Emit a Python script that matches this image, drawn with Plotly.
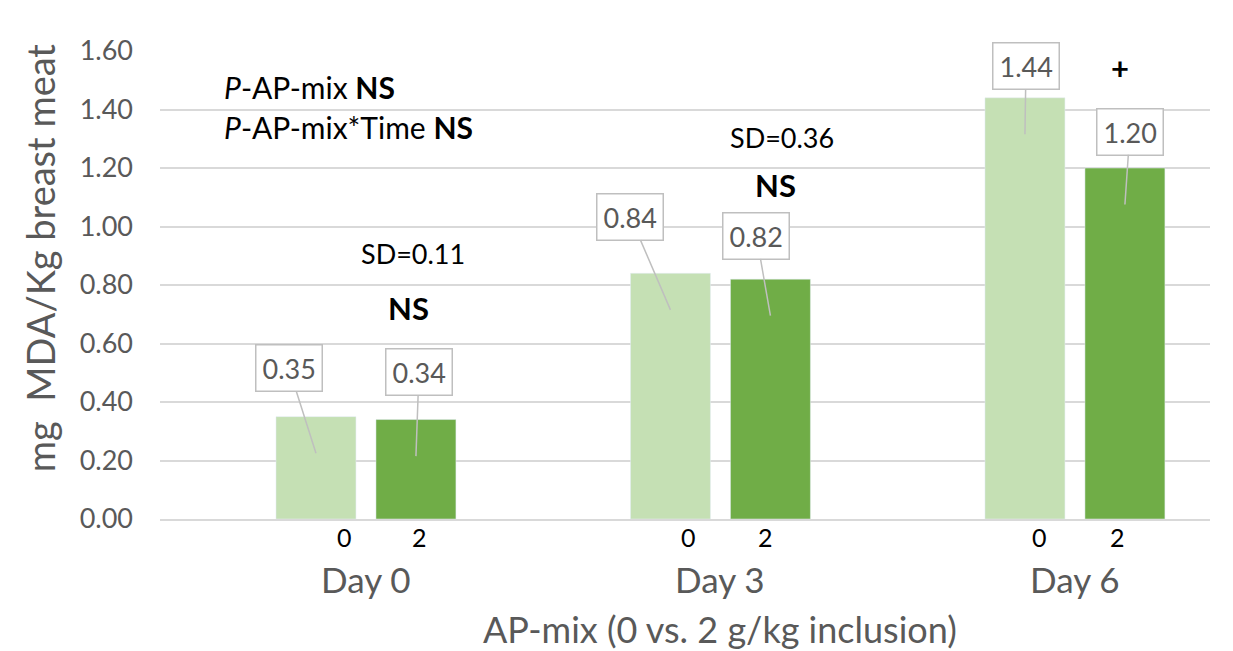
import plotly.graph_objects as go

days = ["Day 0", "Day 3", "Day 6"]
sub_labels = ["0", "2"]
ap0 = [0.35, 0.84, 1.44]
ap2 = [0.34, 0.82, 1.20]
sd_labels = ["SD=0.11", "SD=0.36", "SD=0.48"]
sig_labels = ["NS", "NS", "+"]
y_ticks = [0.0, 0.2, 0.4, 0.6, 0.8, 1.0, 1.2, 1.4, 1.6]

FONT = "Lato"
GRAY = "#595959"
LIGHT = "#C5E0B4"
DARK = "#70AD47"

fig = go.Figure()
fig.add_trace(go.Bar(x=days, y=ap0, name="0", marker_color=LIGHT))
fig.add_trace(go.Bar(x=days, y=ap2, name="2", marker_color=DARK))

annotations = []
# callout labels (offset of bubble relative to pointer tip)
bar_off = 0.141
ax0 = [-27, -40, 1]
ay0 = [-85, -93, -68]
ax2 = [3, -14, 5]
ay2 = [-84, -80, -73]
for i in range(3):
    for vals, off, axs, ays in ((ap0, -bar_off, ax0, ay0), (ap2, bar_off, ax2, ay2)):
        annotations.append(dict(
            x=i + off, y=vals[i] - 0.125, xref="x", yref="y",
            text=f"{vals[i]:.2f}", showarrow=True, arrowhead=0,
            arrowwidth=1.5, arrowcolor="#BFBFBF", ax=axs[i], ay=ays[i],
            bgcolor="white", bordercolor="#BFBFBF", borderwidth=1.5,
            borderpad=6, font=dict(family=FONT, size=27, color=GRAY)))

# sub labels and day labels
sub_shift = [[-21, 54], [-32, 45], [-35, 43]]
for i, d in enumerate(days):
    for j, s in enumerate(sub_labels):
        annotations.append(dict(x=i, y=0, xref="x", yref="paper", text=s,
                                showarrow=False, xshift=sub_shift[i][j], yanchor="top",
                                yshift=-1, font=dict(family=FONT, size=25, color="black")))
    annotations.append(dict(x=i, y=0, xref="x", yref="paper", text=d,
                            showarrow=False, yanchor="top", yshift=-37,
                            font=dict(family=FONT, size=35, color=GRAY)))

# SD and significance texts
sd_x = [0.133, 0.173, 0.127]
sd_y = [0.909, 1.306, 1.713]
sig_y = [0.721, 1.142, 1.542]
sig_x = [0.121, 0.156, 0.127]
for i in range(3):
    annotations.append(dict(x=i + sd_x[i], y=sd_y[i], xref="x", yref="y",
                            text=sd_labels[i], showarrow=False,
                            font=dict(family=FONT, size=27, color="black")))
    annotations.append(dict(x=i + sig_x[i], y=sig_y[i], xref="x", yref="y",
                            text=f"<b>{sig_labels[i]}</b>", showarrow=False,
                            font=dict(family=FONT, size=31, color="black")))

annotations.append(dict(x=0.059, y=1.477, xref="paper", yref="y", xanchor="left",
                        text="<i>P</i>-AP-mix <b>NS</b>", showarrow=False,
                        font=dict(family=FONT, size=30, color="black")))
annotations.append(dict(x=0.059, y=1.340, xref="paper", yref="y", xanchor="left",
                        text="<i>P</i>-AP-mix*Time <b>NS</b>", showarrow=False,
                        font=dict(family=FONT, size=30, color="black")))

annotations.append(dict(x=0.533, y=0, xref="paper", yref="paper", yanchor="top",
                        yshift=-86, text="AP-mix (0 vs. 2 g/kg inclusion)",
                        showarrow=False, font=dict(family=FONT, size=36, color=GRAY)))

# y-axis title
annotations.append(dict(x=-0.114, y=0.558, xref="paper", yref="paper",
                        xanchor="center", yanchor="middle",
                        text="mg  MDA/Kg breast meat", textangle=-90, showarrow=False,
                        font=dict(family=FONT, size=38, color=GRAY)))

fig.update_layout(
    width=1233, height=651,
    margin=dict(l=160, r=23, t=51, b=132),
    paper_bgcolor="white", plot_bgcolor="white",
    barmode="group", bargap=0.436, bargroupgap=0.2,
    showlegend=False,
    annotations=annotations,
    font=dict(family=FONT, color=GRAY),
)
fig.update_xaxes(range=[-0.581, 2.381], showticklabels=False, showgrid=False,
                 showline=True, linecolor="#D9D9D9", linewidth=1.5, ticks="")
fig.update_yaxes(range=[0, 1.6], tickvals=y_ticks, tickformat=".2f",
                 showgrid=True, gridcolor="#D9D9D9", gridwidth=1.5, zeroline=False,
                 tickfont=dict(family=FONT, size=27, color=GRAY), ticklabelstandoff=26)

fig.write_html("out.html", config={"displayModeBar": False},
               post_script="document.body.style.margin='0';")
